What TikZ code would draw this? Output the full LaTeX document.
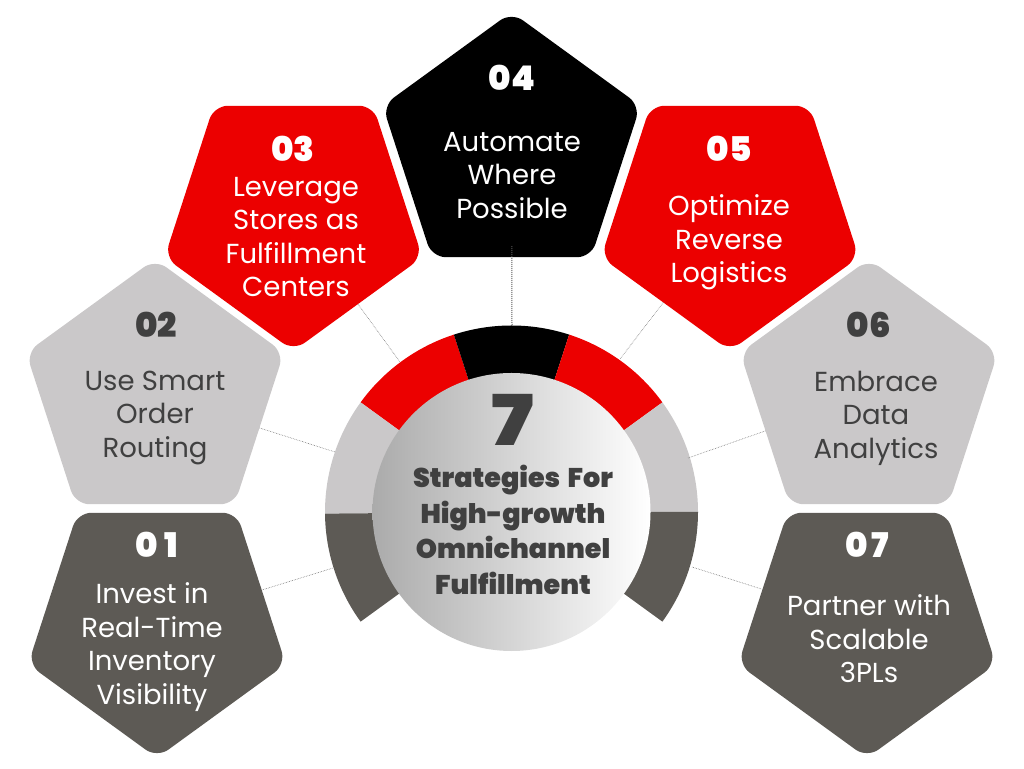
\documentclass[tikz,border=0pt]{standalone}
\usepackage{fontspec}
\setmainfont{Poppins}
\newfontfamily\heavyfont[WordSpace=1.6]{Poppins Black}
\usetikzlibrary{shapes.geometric}
\definecolor{petalred}{HTML}{EC0000}
\definecolor{petallight}{HTML}{CAC8C9}
\definecolor{petaldark}{HTML}{5D5A55}
\definecolor{inkdark}{HTML}{404040}

\begin{document}
\begin{tikzpicture}
  [x=1pt,y=1pt,
   petal/.style={regular polygon,regular polygon sides=5,minimum size=271pt,inner sep=0pt,outer sep=0pt,rounded corners=14pt},
   petaldown/.style={petal,shape border rotate=180},
   num/.style={font=\heavyfont\fontsize{34}{34}\selectfont},
   body/.style={align=center,inner sep=0pt,font=\fontsize{27.5}{33.5}\selectfont},
   link/.style={densely dotted,line width=.6pt,color=black!55}]
  \useasboundingbox (0,0) rectangle (1024,768);
  \coordinate (c) at (511.5,256);

  \foreach \from/\to/\tint in {144/108/petalred,108/72/black,72/36/petalred,36/0/petallight,0/-36/petaldark,180.5/144/petallight,216/180.5/petaldark}
    \fill[\tint] (c) ++(\from:186.5) arc[start angle=\from,end angle=\to,radius=186.5] -- ++(\to:-50) arc[start angle=\to,end angle=\from,radius=136.5] -- cycle;
  \node[circle,minimum size=278pt,inner sep=0pt,left color=black!33,right color=white] (hub) at (c) {};

  \node[petaldown,fill=petaldark] (p1) at (157,145.6) {};
  \node[petal,fill=petallight] (p2) at (155,373.4) {};
  \node[petaldown,fill=petalred] (p3) at (293.5,552.6) {};
  \node[petal,fill=black] (p4) at (511.5,620.4) {};
  \node[petaldown,fill=petalred] (p5) at (730,552.6) {};
  \node[petal,fill=petallight] (p6) at (869,373.4) {};
  \node[petaldown,fill=petaldark] (p7) at (867,145.6) {};

  \coordinate (r1) at (333,200);
  \coordinate (r2) at (335,316);
  \coordinate (r3) at (400,406);
  \coordinate (r4) at (512,442);
  \coordinate (r5) at (620,409);
  \coordinate (r6) at (688,310);
  \coordinate (r7) at (692,201);
  \foreach \from/\to in {p1/r1,p2/r2,p3/r3,p5/r5,p6/r6,p7/r7}
    \draw[link] (\from) -- (\to);
  \draw[link,line width=1pt,color=black!65,shorten <=-11pt] (p4) -- (r4);

  \node[num,white] (n1) at (157,223) {0\kern6pt 1};
  \node[num,inkdark] (n2) at (156,443) {02};
  \node[num,white] (n3) at (293,619) {03};
  \node[num,white] (n4) at (512,690) {04};
  \node[num,white] (n5) at (729,619) {05};
  \node[num,inkdark] (n6) at (869,443) {06};
  \node[num,white] (n7) at (867,223) {0\kern4pt 7};

  \node[body,white] (t1) at (152,121) {Invest in\\Real-Time\\Inventory\\Visibility};
  \node[body,inkdark] (t2) at (155,350) {Use Smart\\Order\\Routing};
  \node[body,white] (t3) at (296,531) {Leverage\\Stores as\\Fulfillment\\Centers};
  \node[body,white] (t4) at (512,592.5) {Automate\\Where\\Possible};
  \node[body,white] (t5) at (729,525.5) {Optimize\\Reverse\\Logistics};
  \node[body,inkdark] (t6) at (876,350) {Embrace\\Data\\Analytics};
  \node[body,white] (t7) at (869,129) {Partner with\\Scalable\\3PLs};

  \node[inkdark,inner sep=0pt,xscale=1.18,font=\heavyfont\fontsize{70}{70}\selectfont] (seven) at (513,348) {7};
  \node[inkdark,align=center,inner sep=0pt,font=\heavyfont\fontsize{27}{35.7}\selectfont] (title) at (513,238) {Strategies For\\High-growth\\Omnichannel\\Fulfillment};
\end{tikzpicture}
\end{document}
